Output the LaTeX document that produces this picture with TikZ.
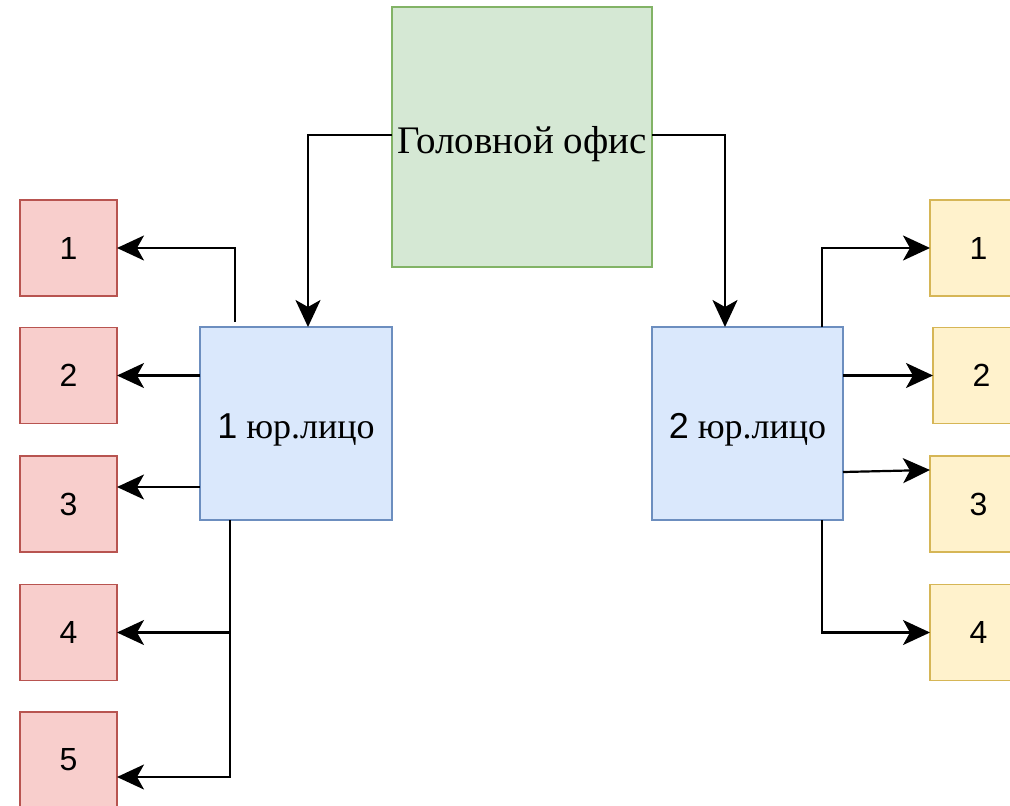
\documentclass[tikz,border=0pt]{standalone}
\usepackage{fontspec}
\setmainfont{Liberation Serif}
\newfontfamily\sansnum{Liberation Sans}
\usetikzlibrary{arrows.meta}
\definecolor{gfill}{HTML}{D5E8D4}\definecolor{gdraw}{HTML}{82B366}
\definecolor{bfill}{HTML}{DAE8FC}\definecolor{bdraw}{HTML}{6C8EBF}
\definecolor{rfill}{HTML}{F8CECC}\definecolor{rdraw}{HTML}{B85450}
\definecolor{yfill}{HTML}{FFF2CC}\definecolor{ydraw}{HTML}{D6B656}
\tikzset{
  box/.style={rectangle, outer sep=0pt, inner sep=0pt, line width=1.8pt},
  headbox/.style={box, fill=gfill, draw=gdraw, minimum width=260pt, minimum height=260pt, font=\fontsize{39}{44}\selectfont, text height=40pt, text depth=8pt},
  entbox/.style={box, fill=bfill, draw=bdraw, minimum width=192pt, minimum height=193pt, font=\fontsize{36}{40}\selectfont, text height=37pt, text depth=8pt},
  redbox/.style={box, fill=rfill, draw=rdraw, minimum width=97pt, minimum height=96pt, font=\sansnum\fontsize{32}{36}\selectfont},
  yelbox/.style={box, fill=yfill, draw=ydraw, minimum width=97pt, minimum height=96pt, font=\sansnum\fontsize{32}{36}\selectfont},
  arr/.style={line width=2.2pt, -{Stealth[length=27pt, width=25pt, inset=7pt]}}
}
\begin{document}
\begin{tikzpicture}[x=1pt, y=-1pt]
\useasboundingbox (0,0) rectangle (1010,806);
\clip (0,0) rectangle (1010,806);
\node[headbox] (head) at (522,137) {Головной офис};
\node[entbox] (l1) at (296,423.5) {{\sansnum 1} юр.лицо};
\node[entbox, minimum width=191pt] (r1) at (747.5,423.5) {{\sansnum 2} юр.лицо};
\node[redbox] (a1) at (68.5,248) {1};
\node[redbox] (a2) at (68.5,375.5) {2};
\node[redbox] (a3) at (68.5,504) {3};
\node[redbox] (a4) at (68.5,632.5) {4};
\node[redbox] (a5) at (68.5,760) {5};
\node[yelbox] (b1) at (978.5,248) {1};
\node[yelbox] (b2) at (981.5,375.5) {2};
\node[yelbox] (b3) at (978.5,504) {3};
\node[yelbox] (b4) at (978.5,632.5) {4};
% head to entities
\draw[arr] ([yshift=2pt]head.west) -| ([xshift=12pt]l1.north);
\draw[arr] ([yshift=2pt]head.east) -| ([xshift=-22.5pt]r1.north);
% left entity
\draw[arr] ([xshift=-61pt,yshift=5pt]l1.north) |- (a1.east);
\draw[arr] (l1.west |- a2.east) -- (a2.east);
\coordinate (p3) at ([yshift=-63.5pt]l1.west);
\draw[arr] (p3) -- (p3 -| a3.east);
\coordinate (p45) at ([xshift=-66pt]l1.south);
\draw[arr] (p45) |- (a4.east);
\draw[arr] (p45) |- ([yshift=-17pt]a5.east);
% right entity
\draw[arr] ([xshift=74.5pt]r1.north) |- (b1.west);
\draw[arr] (r1.east |- b2.west) -- (b2.west);
\draw[arr] ([yshift=-48.5pt]r1.east) -- ([yshift=34pt]b3.west);
\draw[arr] ([xshift=74.5pt]r1.south) |- (b4.west);
\end{tikzpicture}
\end{document}
